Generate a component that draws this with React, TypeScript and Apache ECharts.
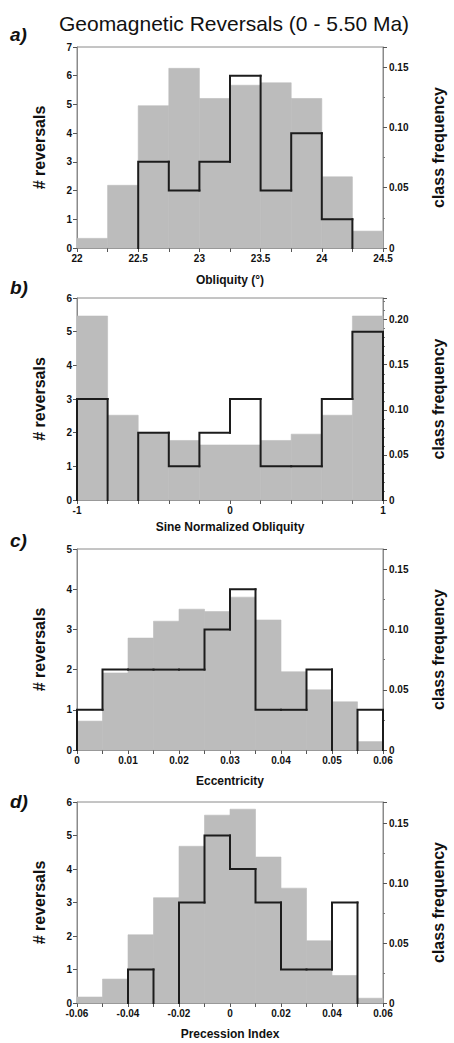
import React, { useEffect, useRef } from "react";
import * as echarts from "echarts";

const TITLE = "Geomagnetic Reversals (0 - 5.50 Ma)";

// a) Obliquity
const obliquityEdges = [22, 22.25, 22.5, 22.75, 23, 23.25, 23.5, 23.75, 24, 24.25, 24.5];
const obliquityFreq = [0.008, 0.052, 0.118, 0.149, 0.124, 0.135, 0.137, 0.124, 0.059, 0.014];
const obliquityCounts = [0, 0, 3, 2, 3, 6, 2, 4, 1, 0];

// b) Sine normalized obliquity
const sineEdges = [-1, -0.8, -0.6, -0.4, -0.2, 0, 0.2, 0.4, 0.6, 0.8, 1];
const sineFreq = [0.204, 0.094, 0.075, 0.066, 0.061, 0.061, 0.066, 0.073, 0.094, 0.204];
const sineCounts = [3, 0, 2, 1, 2, 3, 1, 1, 3, 5];

// c) Eccentricity
const eccEdges = [0, 0.005, 0.01, 0.015, 0.02, 0.025, 0.03, 0.035, 0.04, 0.045, 0.05, 0.055, 0.06];
const eccFreq = [0.024, 0.064, 0.093, 0.107, 0.117, 0.115, 0.127, 0.108, 0.065, 0.05, 0.04, 0.007];
const eccCounts = [1, 2, 2, 2, 2, 3, 4, 1, 1, 2, 0, 1];

// d) Precession index
const precEdges = [-0.06, -0.05, -0.04, -0.03, -0.02, -0.01, 0, 0.01, 0.02, 0.03, 0.04, 0.05, 0.06];
const precFreq = [0.005, 0.02, 0.057, 0.088, 0.131, 0.157, 0.162, 0.122, 0.096, 0.052, 0.023, 0.004];
const precCounts = [0, 0, 1, 0, 3, 5, 4, 3, 1, 1, 3, 0];

const panelLabels = ["a)", "b)", "c)", "d)"];
const xNames = ["Obliquity (°)", "Sine Normalized Obliquity", "Eccentricity", "Precession Index"];
const leftName = "# reversals";
const rightName = "class frequency";

const isMult = (v: number, step: number) => Math.abs(v / step - Math.round(v / step)) < 1e-6;
const fmt2 = (v: number) => (Math.abs(v) < 1e-9 ? "0" : v.toFixed(2));

const FONT = "Liberation Sans";
const GRAY = "#bcbcbc";

const panels = [
  {
    edges: obliquityEdges, freq: obliquityFreq, counts: obliquityCounts,
    top: 47, height: 201, xMin: 22, xMax: 24.5, xInterval: 0.25,
    xLabel: (v: number) => (isMult(v, 0.5) ? String(+v.toFixed(2)) : ""),
    xNameGap: 26, yMax: 7, fMax: 0.1667, fMinor: 2, fLabelMax: 0.15, labelY: 34,
  },
  {
    edges: sineEdges, freq: sineFreq, counts: sineCounts,
    top: 298, height: 202, xMin: -1, xMax: 1, xInterval: 0.2,
    xLabel: (v: number) => (isMult(v, 1) ? String(Math.round(v)) : ""),
    xNameGap: 21, yMax: 6, fMax: 0.224, fMinor: 5, fLabelMax: 0.2, labelY: 287,
  },
  {
    edges: eccEdges, freq: eccFreq, counts: eccCounts,
    top: 549, height: 201, xMin: 0, xMax: 0.06, xInterval: 0.005,
    xLabel: (v: number) => (isMult(v, 0.01) ? fmt2(v) : ""),
    xNameGap: 25, yMax: 5, fMax: 0.167, fMinor: 2, fLabelMax: 0.15, labelY: 540,
  },
  {
    edges: precEdges, freq: precFreq, counts: precCounts,
    top: 802, height: 201, xMin: -0.06, xMax: 0.06, xInterval: 0.01,
    xLabel: (v: number) => (isMult(v, 0.02) ? fmt2(v) : ""),
    xNameGap: 25, yMax: 6, fMax: 0.168, fMinor: 2, fLabelMax: 0.15, labelY: 801,
  },
];

export default function App() {
  const ref = useRef<HTMLDivElement>(null);
  useEffect(() => {
    document.body.style.margin = "0";
    const chart = echarts.init(ref.current!, null, { renderer: "svg" });
    const grids: any[] = [];
    const xAxes: any[] = [];
    const yAxes: any[] = [];
    const series: any[] = [];
    const graphics: any[] = [
      {
        type: "text", x: 234, y: 23,
        style: { text: TITLE, font: `normal 21px "${FONT}"`, fill: "#111", align: "center", verticalAlign: "middle" },
      },
    ];
    const tickLabel = { fontFamily: FONT, fontSize: 10, fontWeight: "bold", color: "#111" };
    const axisLine = { show: true, onZero: false, lineStyle: { color: "#8a8a8a", width: 1 } };
    panels.forEach((p, i) => {
      grids.push({ left: 77, width: 315, top: p.top, height: p.height, show: true, borderColor: "#8a8a8a", borderWidth: 1, backgroundColor: "transparent" });
      xAxes.push({
        type: "value", gridIndex: i, min: p.xMin, max: p.xMax, interval: p.xInterval,
        axisLine, splitLine: { show: false },
        axisTick: { show: true, inside: false, length: 4, lineStyle: { color: "#555" } },
        axisLabel: { ...tickLabel, margin: 5, formatter: p.xLabel },
        name: xNames[i], nameLocation: "middle", nameGap: p.xNameGap,
        nameTextStyle: { fontFamily: FONT, fontSize: 12, fontWeight: "bold", color: "#111" },
      });
      yAxes.push({
        type: "value", gridIndex: i, position: "left", min: 0, max: p.yMax, interval: 1,
        axisLine, splitLine: { show: false },
        axisTick: { show: true, inside: false, length: 4, lineStyle: { color: "#555" } },
        axisLabel: { ...tickLabel, margin: 5 },
        name: leftName, nameLocation: "middle", nameRotate: 90, nameGap: 30,
        nameTextStyle: { fontFamily: FONT, fontSize: 16, fontWeight: "bold", color: "#111" },
      });
      yAxes.push({
        type: "value", gridIndex: i, position: "right", min: 0, max: p.fMax, interval: 0.05,
        axisLine, splitLine: { show: false },
        axisTick: { show: true, inside: false, length: 4, lineStyle: { color: "#555" } },
        minorTick: { show: true, splitNumber: p.fMinor, length: 2, lineStyle: { color: "#777" } },
        axisLabel: {
          ...tickLabel, margin: 6,
          formatter: (v: number) => (isMult(v, 0.05) && v <= p.fLabelMax + 1e-9 ? fmt2(v) : ""),
        },
        name: rightName, nameLocation: "middle", nameRotate: 90, nameGap: 47,
        nameTextStyle: { fontFamily: FONT, fontSize: 16, fontWeight: "bold", color: "#111" },
      });
      series.push({
        type: "custom", xAxisIndex: i, yAxisIndex: i * 2 + 1, z: 1,
        data: p.freq.map((f, k) => [p.edges[k], p.edges[k + 1], f]),
        encode: { x: [0, 1], y: [2] },
        renderItem: (params: any, api: any) => {
          const a = api.coord([api.value(0), api.value(2)]);
          const b = api.coord([api.value(1), 0]);
          return {
            type: "rect",
            shape: { x: a[0], y: a[1], width: b[0] - a[0], height: b[1] - a[1] },
            style: { fill: GRAY, stroke: GRAY, lineWidth: 0.6 },
          };
        },
      });
      series.push({
        type: "custom", xAxisIndex: i, yAxisIndex: i * 2, z: 3,
        data: p.counts.map((c, k) => [p.edges[k], p.edges[k + 1], c, k > 0 ? p.counts[k - 1] : 0, k === p.counts.length - 1 ? 1 : 0]),
        encode: { x: [0, 1], y: [2] },
        renderItem: (params: any, api: any) => {
          const x0 = api.value(0), x1 = api.value(1), v = api.value(2), prev = api.value(3), last = api.value(4);
          const pts: number[][] = [];
          if (v > 0) {
            pts.push(api.coord([x0, prev]), api.coord([x0, v]), api.coord([x1, v]));
            if (last) pts.push(api.coord([x1, 0]));
          } else if (prev > 0) {
            pts.push(api.coord([x0, prev]), api.coord([x0, 0]));
          }
          if (pts.length < 2) return { type: "group", children: [] };
          return {
            type: "polyline",
            shape: { points: pts },
            style: { stroke: "#1c1c1c", lineWidth: 2, fill: null, lineJoin: "miter", lineCap: "square" },
          };
        },
      });
      graphics.push({
        type: "text", x: 10, y: p.labelY,
        style: { text: panelLabels[i], font: `italic bold 19px "${FONT}"`, fill: "#111", align: "left", verticalAlign: "middle" },
      });
    });
    chart.setOption({
      animation: false,
      backgroundColor: "#fff",
      textStyle: { fontFamily: FONT },
      grid: grids,
      xAxis: xAxes,
      yAxis: yAxes,
      series,
      graphic: graphics,
    });
    return () => chart.dispose();
  }, []);
  return <div ref={ref} style={{ width: 454, height: 1043 }} />;
}
